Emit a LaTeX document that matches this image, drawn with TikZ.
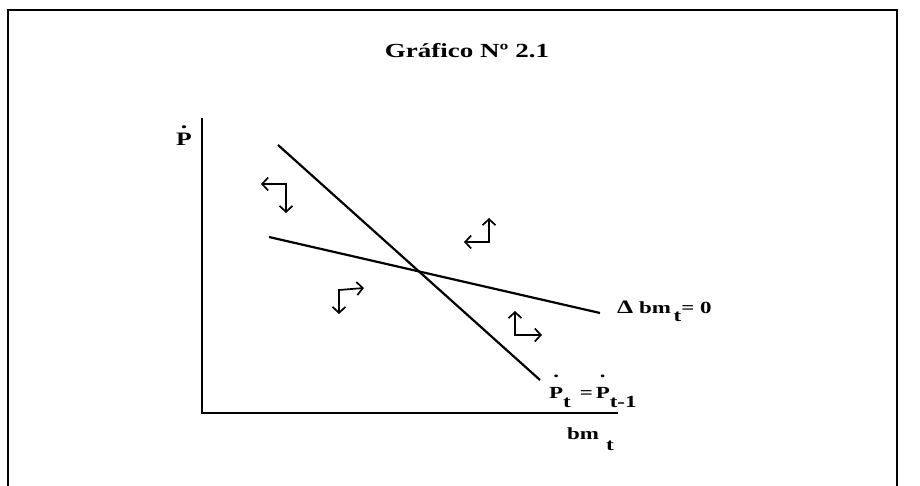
\documentclass[tikz,border=0pt]{standalone}
\usepackage{fontspec}
\setmainfont{Liberation Serif}
\newfontfamily\widefont[FakeStretch=1.35]{Liberation Serif}
\usetikzlibrary{arrows.meta}
\newcommand\dotletter[2][9pt]{\leavevmode\vbox{\offinterlineskip\halign{\hfil##\hfil\cr .\cr\noalign{\kern #1}#2\cr}}}
\begin{document}
\begin{tikzpicture}[x=1pt,y=-1pt,
  lbl/.style={font=\widefont\bfseries\fontsize{17}{19}\selectfont, inner sep=0pt, anchor=base west},
  curve/.style={line width=2.2pt},
  axis/.style={line width=1.8pt},
  frame/.style={line width=1.6pt},
  dir/.style={line width=1.7pt, {Straight Barb[length=6pt,width=13pt,line width=1.7pt]}-{Straight Barb[length=6pt,width=13pt,line width=1.7pt]}}
]
\useasboundingbox[fill=white] (0,0) rectangle (920,486);
% frame
\draw[frame] (8,486) -- (8,10) -- (897,10) -- (897,486);
% title
\node[font=\widefont\bfseries\fontsize{20}{22}\selectfont, inner sep=0pt, anchor=base] (title) at (467,58) {Gráfico Nº 2.1};
% axes
\coordinate (ytop) at (202,118);
\coordinate (O) at (202,413);
\coordinate (xend) at (618,413);
\draw[axis] (ytop) -- (O) -- (xend);
% curves
\coordinate (a1) at (278,145);
\coordinate (a2) at (540,380);
\coordinate (b1) at (269,237);
\coordinate (b2) at (600,313);
\draw[curve] (a1) -- (a2);
\draw[curve] (b1) -- (b2);
% direction arrows
\coordinate (c1) at (286,184); \coordinate (c1h) at (261,184); \coordinate (c1v) at (286,213);
\draw[dir] (c1h) -- (c1) -- (c1v);
\coordinate (c2) at (339,290); \coordinate (c2h) at (364,288); \coordinate (c2v) at (339,314);
\draw[dir] (c2v) -- (c2) -- (c2h);
\coordinate (c3) at (489,242); \coordinate (c3h) at (464,242); \coordinate (c3v) at (489,218);
\draw[dir] (c3h) -- (c3) -- (c3v);
\coordinate (c4) at (515,335); \coordinate (c4h) at (542,335); \coordinate (c4v) at (515,311);
\draw[dir] (c4v) -- (c4) -- (c4h);
% labels
\node[lbl, font=\widefont\bfseries\fontsize{19}{21}\selectfont] (ylab) at (176,146) {\dotletter[5pt]{P}};
\node[lbl] (lshallow) at (617,313) {{\fontsize{19}{21}\selectfont Δ} bm\,\raisebox{-8pt}{t}= 0};
\node[lbl] (lsteep) at (549,398) {\dotletter{P}\raisebox{-9pt}{t}\hspace{9pt}=\,\dotletter{P}\raisebox{-9pt}{t-1}};
\node[lbl] (xlab) at (567,439) {bm\hspace{7pt}\raisebox{-11pt}{t}};
\end{tikzpicture}
\end{document}
